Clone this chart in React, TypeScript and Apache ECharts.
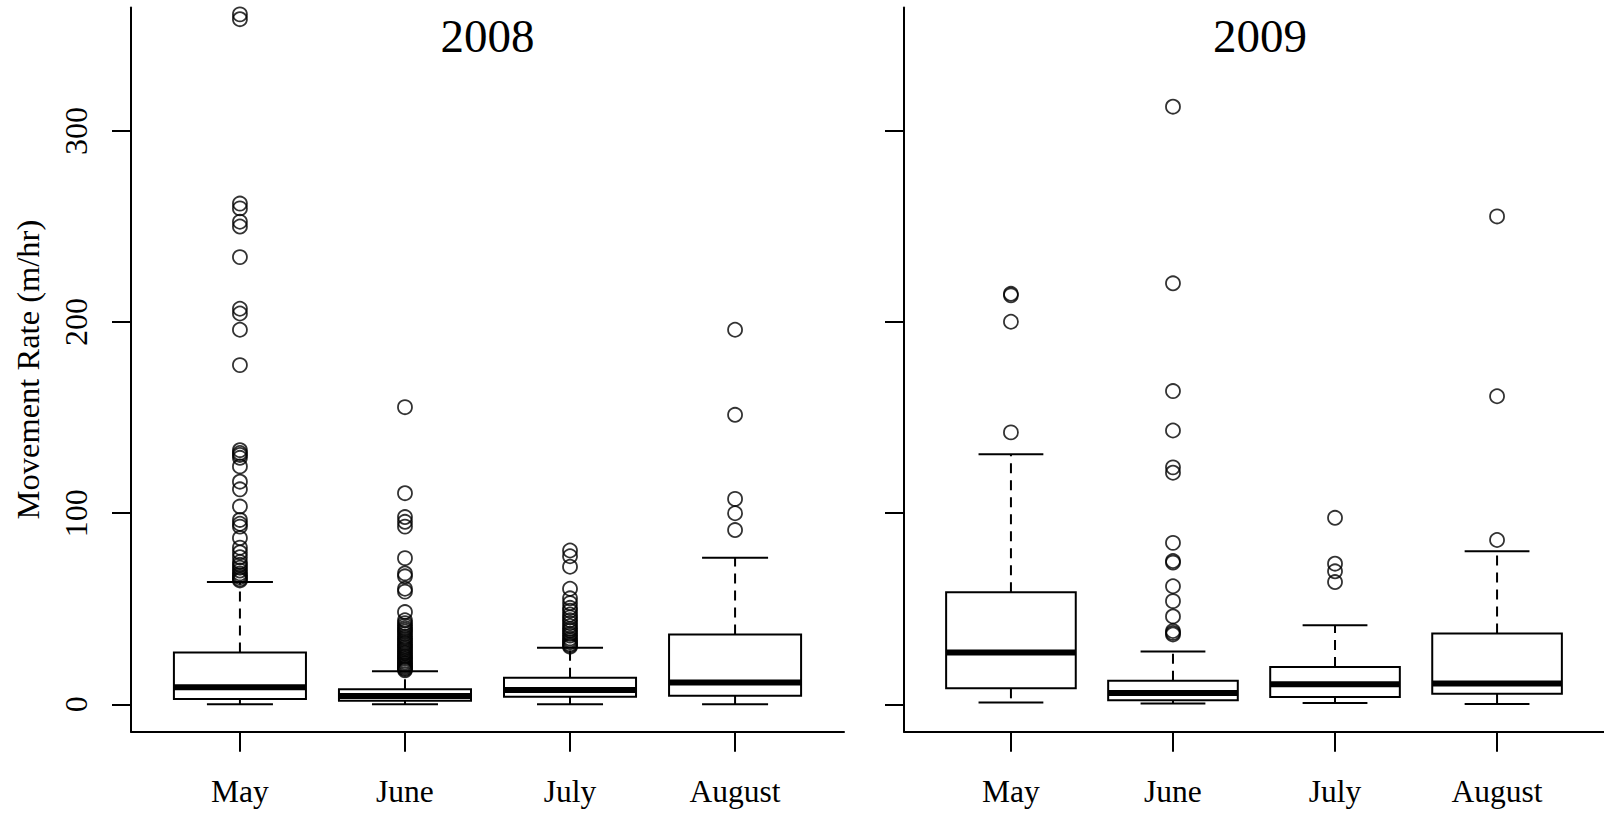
import React, { useEffect, useRef } from "react";
import * as echarts from "echarts";

// ---------- data ----------
const months = ["May", "June", "July", "August"];
const monthPositions = [1, 2, 3, 4];
const yTickValues = [0, 100, 200, 300];
const panelTitles = ["2008", "2009"];
const yAxisTitle = "Movement Rate (m/hr)";

// box statistics: [lower whisker, Q1, median, Q3, upper whisker]
const stats2008May = [0, 2.8, 8.9, 27.2, 64.0];
const stats2008June = [0, 1.9, 4.4, 7.9, 17.3];
const stats2008July = [0, 4.0, 7.5, 13.9, 29.6];
const stats2008August = [0, 4.5, 11.5, 36.6, 76.7];

const stats2009May = [1.0, 8.4, 27.2, 58.6, 130.8];
const stats2009June = [0.4, 2.2, 6.0, 12.4, 27.6];
const stats2009July = [0.7, 3.9, 10.5, 19.6, 41.4];
const stats2009August = [0.2, 5.5, 10.9, 37.1, 80.1];

// outliers
const out2008May = [
  361, 358.5, 262, 259.5, 252.5, 250, 234, 207, 204.5, 196, 177.5,
  133, 131.5, 130.5, 129, 124.5, 116.5, 112.5, 103.5, 96.5, 94.5, 93,
  87, 82, 79.5, 77, 74.5, 73, 71.5, 70, 68.5, 67.5, 66.5, 65.5, 64.8,
];
const out2008June = [
  155.5, 110.5, 98, 95.5, 93, 76.5, 68.5, 67, 60.5, 59, 48.3, 44, 42.5,
  41.2, 40, 39, 38, 36.8, 35.5, 34.6, 33.5, 32.4, 31.5, 30.4, 29.5, 28.6,
  27.5, 26.6, 25.5, 24.7, 23.8, 22.9, 22, 21.2, 20.4, 19.7, 19, 18.4, 17.8,
];
const out2008July = [
  80.5, 77.5, 72, 60.5, 55.5, 53, 50.5, 49, 47, 45.5, 44, 42.5, 41, 39.5,
  38.5, 37, 36, 34.5, 33.5, 32.5, 31.5, 30.8, 30.2,
];
const out2008August = [196, 151.5, 107.5, 100, 91.2];

const out2009May = [214.8, 214.0, 200.2, 142.3];
const out2009June = [
  312.7, 220.3, 163.9, 143.3, 124.0, 121.2, 84.5, 75.0, 74.2, 61.8, 54.0,
  46.0, 38.4, 37.4, 36.6,
];
const out2009July = [97.6, 73.6, 69.6, 64.0];
const out2009August = [255.3, 161.2, 86.0];

// ---------- helpers ----------
const FONT = '"Liberation Serif", "Times New Roman", serif';
const INK = "#000";

const boxes2008 = [stats2008May, stats2008June, stats2008July, stats2008August];
const boxes2009 = [stats2009May, stats2009June, stats2009July, stats2009August];
const outs2008 = [out2008May, out2008June, out2008July, out2008August];
const outs2009 = [out2009May, out2009June, out2009July, out2009August];

const toBoxData = (boxes: number[][]) =>
  boxes.map((s, i) => [monthPositions[i], ...s]);
const toOutlierData = (outs: number[][]) =>
  outs.flatMap((arr, i) => arr.map((v) => [monthPositions[i], v]));

const renderBox = (_params: any, api: any) => {
  const x = api.value(0);
  const lo = api.value(1);
  const q1 = api.value(2);
  const med = api.value(3);
  const q3 = api.value(4);
  const hi = api.value(5);
  const cx = api.coord([x, med])[0];
  const yLo = api.coord([x, lo])[1];
  const yQ1 = api.coord([x, q1])[1];
  const yMed = api.coord([x, med])[1];
  const yQ3 = api.coord([x, q3])[1];
  const yHi = api.coord([x, hi])[1];
  const boxW = api.size([0.8, 0])[0];
  const half = boxW / 2;
  const cap = boxW / 4;
  return {
    type: "group",
    children: [
      {
        type: "line",
        shape: { x1: cx, y1: yQ3, x2: cx, y2: yHi },
        style: { stroke: INK, lineWidth: 2, lineDash: [10, 7] },
      },
      {
        type: "line",
        shape: { x1: cx, y1: yQ1, x2: cx, y2: yLo },
        style: { stroke: INK, lineWidth: 2, lineDash: [10, 7] },
      },
      {
        type: "line",
        shape: { x1: cx - cap, y1: yHi, x2: cx + cap, y2: yHi },
        style: { stroke: INK, lineWidth: 2 },
      },
      {
        type: "line",
        shape: { x1: cx - cap, y1: yLo, x2: cx + cap, y2: yLo },
        style: { stroke: INK, lineWidth: 2 },
      },
      {
        type: "rect",
        shape: { x: cx - half, y: yQ3, width: boxW, height: yQ1 - yQ3 },
        style: { fill: "none", stroke: INK, lineWidth: 2 },
      },
      {
        type: "line",
        shape: { x1: cx - half, y1: yMed, x2: cx + half, y2: yMed },
        style: { stroke: INK, lineWidth: 6 },
      },
    ],
  };
};

const GRID_TOP = 7.5;
const GRID_H = 724.2;
const Y_MIN = -14.3;
const Y_MAX = 364.6;
const X_MIN = 0.34;
const X_MAX = 4.66;

const makeXAxis = (gridIndex: number) => ({
  type: "value",
  gridIndex,
  min: X_MIN,
  max: X_MAX,
  axisLine: { show: true, onZero: false, lineStyle: { color: INK, width: 2 } },
  axisTick: {
    show: true,
    customValues: monthPositions,
    length: 20,
    lineStyle: { color: INK, width: 2 },
  },
  axisLabel: {
    show: true,
    customValues: monthPositions,
    formatter: (v: number) => months[Math.round(v) - 1] ?? "",
    fontSize: 31.5,
    fontFamily: FONT,
    color: INK,
    margin: 43.5,
  },
  splitLine: { show: false },
});

const makeYAxis = (gridIndex: number, showLabels: boolean) => ({
  type: "value",
  gridIndex,
  min: Y_MIN,
  max: Y_MAX,
  name: showLabels ? yAxisTitle : "",
  nameLocation: "middle",
  nameGap: 87,
  nameTextStyle: { fontSize: 32.5, fontFamily: FONT, color: INK },
  axisLine: { show: true, onZero: false, lineStyle: { color: INK, width: 2 } },
  axisTick: {
    show: true,
    customValues: yTickValues,
    length: 19,
    lineStyle: { color: INK, width: 2 },
  },
  axisLabel: {
    show: showLabels,
    customValues: yTickValues,
    rotate: 90,
    fontSize: 32,
    fontFamily: FONT,
    color: INK,
    margin: 39.5,
  },
  splitLine: { show: false },
});

const outlierStyle = {
  color: "rgba(0,0,0,0)",
  borderColor: INK,
  borderWidth: 1.8,
};

export default function App() {
  const ref = useRef<HTMLDivElement>(null);

  useEffect(() => {
    if (!ref.current) return;
    const chart = echarts.init(ref.current, undefined, { renderer: "svg" });
    const option: any = {
      animation: false,
      backgroundColor: "#ffffff",
      grid: [
        { left: 131, top: GRID_TOP, width: 713, height: GRID_H },
        { left: 904, top: GRID_TOP, width: 713, height: GRID_H },
      ],
      xAxis: [makeXAxis(0), makeXAxis(1)],
      yAxis: [makeYAxis(0, true), makeYAxis(1, false)],
      graphic: [
        {
          type: "text",
          x: 487.5,
          y: 36,
          style: {
            text: panelTitles[0],
            font: `47px ${FONT}`,
            fill: INK,
            textAlign: "center",
            textVerticalAlign: "middle",
          },
        },
        {
          type: "text",
          x: 1260,
          y: 36,
          style: {
            text: panelTitles[1],
            font: `47px ${FONT}`,
            fill: INK,
            textAlign: "center",
            textVerticalAlign: "middle",
          },
        },
      ],
      series: [
        {
          type: "custom",
          name: "2008",
          xAxisIndex: 0,
          yAxisIndex: 0,
          silent: true,
          renderItem: renderBox,
          encode: { x: 0, y: [1, 2, 3, 4, 5] },
          data: toBoxData(boxes2008),
        },
        {
          type: "custom",
          name: "2009",
          xAxisIndex: 1,
          yAxisIndex: 1,
          silent: true,
          renderItem: renderBox,
          encode: { x: 0, y: [1, 2, 3, 4, 5] },
          data: toBoxData(boxes2009),
        },
        {
          type: "scatter",
          name: "2008 outliers",
          xAxisIndex: 0,
          yAxisIndex: 0,
          silent: true,
          symbol: "circle",
          symbolSize: 14,
          itemStyle: outlierStyle,
          data: toOutlierData(outs2008),
        },
        {
          type: "scatter",
          name: "2009 outliers",
          xAxisIndex: 1,
          yAxisIndex: 1,
          silent: true,
          symbol: "circle",
          symbolSize: 14,
          itemStyle: outlierStyle,
          data: toOutlierData(outs2009),
        },
      ],
    };
    chart.setOption(option);
    return () => chart.dispose();
  }, []);

  return (
    <div
      ref={ref}
      style={{
        position: "absolute",
        left: 0,
        top: 0,
        width: 1604,
        height: 817,
        background: "#fff",
      }}
    />
  );
}
